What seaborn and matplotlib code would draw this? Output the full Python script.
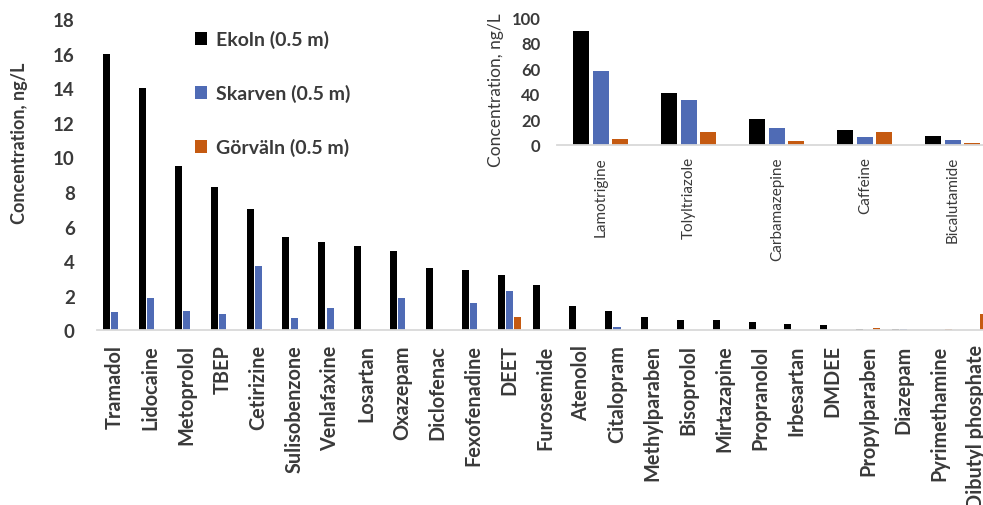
import matplotlib
matplotlib.use("Agg")
import matplotlib.pyplot as plt
import seaborn as sns
import pandas as pd

# Compounds at lower concentrations (main panel)
compounds = [
    "Tramadol", "Lidocaine", "Metoprolol", "TBEP", "Cetirizine", "Sulisobenzone",
    "Venlafaxine", "Losartan", "Oxazepam", "Diclofenac", "Fexofenadine", "DEET",
    "Furosemide", "Atenolol", "Citalopram", "Methylparaben", "Bisoprolol",
    "Mirtazapine", "Propranolol", "Irbesartan", "DMDEE", "Propylparaben",
    "Diazepam", "Pyrimethamine", "Dibutyl phosphate",
]
ekoln = [16.0, 14.0, 9.5, 8.3, 7.0, 5.4, 5.1, 4.9, 4.6, 3.6, 3.5, 3.2,
         2.6, 1.4, 1.1, 0.8, 0.6, 0.6, 0.5, 0.4, 0.3, 0.08, 0.06, 0.0, 0.0]
skarven = [1.05, 1.9, 1.1, 0.93, 3.7, 0.75, 1.3, 0.0, 1.9, 0.0, 1.6, 2.3,
           0.0, 0.0, 0.2, 0.0, 0.0, 0.0, 0.0, 0.0, 0.0, 0.0, 0.08, 0.0, 0.0]
gorvaln = [0.0, 0.0, 0.0, 0.0, 0.1, 0.0, 0.0, 0.0, 0.0, 0.0, 0.0, 0.8,
           0.0, 0.0, 0.0, 0.0, 0.0, 0.0, 0.0, 0.0, 0.0, 0.17, 0.0, 0.06, 0.95]

# Compounds at higher concentrations (inset panel)
inset_compounds = ["Lamotrigine", "Tolyltriazole", "Carbamazepine", "Caffeine", "Bicalutamide"]
inset_ekoln = [89, 41, 20, 12, 7]
inset_skarven = [58, 35, 13, 6, 4]
inset_gorvaln = [5, 10, 3, 10, 1.5]

main_yticks = [0, 2, 4, 6, 8, 10, 12, 14, 16, 18]
inset_yticks = [0, 20, 40, 60, 80, 100]

series_names = ["Ekoln (0.5 m)", "Skarven (0.5 m)", "Görväln (0.5 m)"]
colors = ["#000000", "#4f6bb5", "#c55a11"]
text_color = "#3a3a3a"
axis_color = "#d9d9d9"


def long_form(cats, *series):
    frames = [pd.DataFrame({"compound": cats, "site": name, "value": vals})
              for name, vals in zip(series_names, series)]
    return pd.concat(frames, ignore_index=True)


main_df = long_form(compounds, ekoln, skarven, gorvaln)
inset_df = long_form(inset_compounds, inset_ekoln, inset_skarven, inset_gorvaln)

sns.set_theme(style="white")
plt.rcParams["font.family"] = ["Lato", "DejaVu Sans"]

fig = plt.figure(figsize=(9.83, 5.06), dpi=100)

# ---- main panel ----
ax = fig.add_axes([0.0987, 0.3449, 0.912, 0.6156])
sns.barplot(data=main_df, x="compound", y="value", hue="site", palette=colors,
            saturation=1, width=0.7, gap=0.16, linewidth=0, errorbar=None, ax=ax)
ax.set_xlim(-0.5, 24.5)
ax.set_ylim(0, 18)
ax.set_yticks(main_yticks)
ax.set_xlabel("")
ax.set_ylabel("Concentration, ng/L", fontsize=13, fontweight="bold", color=text_color)
ax.yaxis.set_label_coords(-0.077, 0.605)
for side in ("top", "right", "left"):
    ax.spines[side].set_visible(False)
ax.spines["bottom"].set_color(axis_color)
ax.spines["bottom"].set_linewidth(1.3)
ax.tick_params(axis="both", length=0, colors=text_color)
ax.tick_params(axis="y", pad=16, labelsize=13.5)
ax.tick_params(axis="x", pad=10, labelsize=14.3, labelrotation=90)
for lab in ax.get_xticklabels() + ax.get_yticklabels():
    lab.set_fontweight("bold")

sns.move_legend(ax, "upper left", bbox_to_anchor=(0.09, 1.02), frameon=False,
                title=None, fontsize=14, labelspacing=1.85, handlelength=0.6,
                handleheight=0.6, handletextpad=0.45)
for t in ax.get_legend().get_texts():
    t.set_color(text_color)
    t.set_fontweight("bold")

# ---- inset panel ----
ins = fig.add_axes([0.5666, 0.7115, 0.4476, 0.2524])
sns.barplot(data=inset_df, x="compound", y="value", hue="site", palette=colors,
            saturation=1, width=0.665, gap=0.18, linewidth=0, errorbar=None,
            legend=False, ax=ins)
ins.set_xlim(-0.5, 4.5)
ins.set_ylim(0, 100)
ins.set_yticks(inset_yticks)
ins.set_xlabel("")
ins.set_ylabel("Concentration, ng/L", fontsize=12.5, color=text_color)
ins.yaxis.set_label_coords(-0.12, 0.44)
for side in ("top", "right", "left"):
    ins.spines[side].set_visible(False)
ins.spines["bottom"].set_color(axis_color)
ins.spines["bottom"].set_linewidth(1.3)
ins.tick_params(axis="both", length=0, colors=text_color)
ins.tick_params(axis="y", pad=12, labelsize=12)
ins.tick_params(axis="x", pad=8, labelsize=11, labelrotation=90)
for lab in ins.get_yticklabels():
    lab.set_fontweight("bold")

fig.savefig("out.png", dpi=100)
